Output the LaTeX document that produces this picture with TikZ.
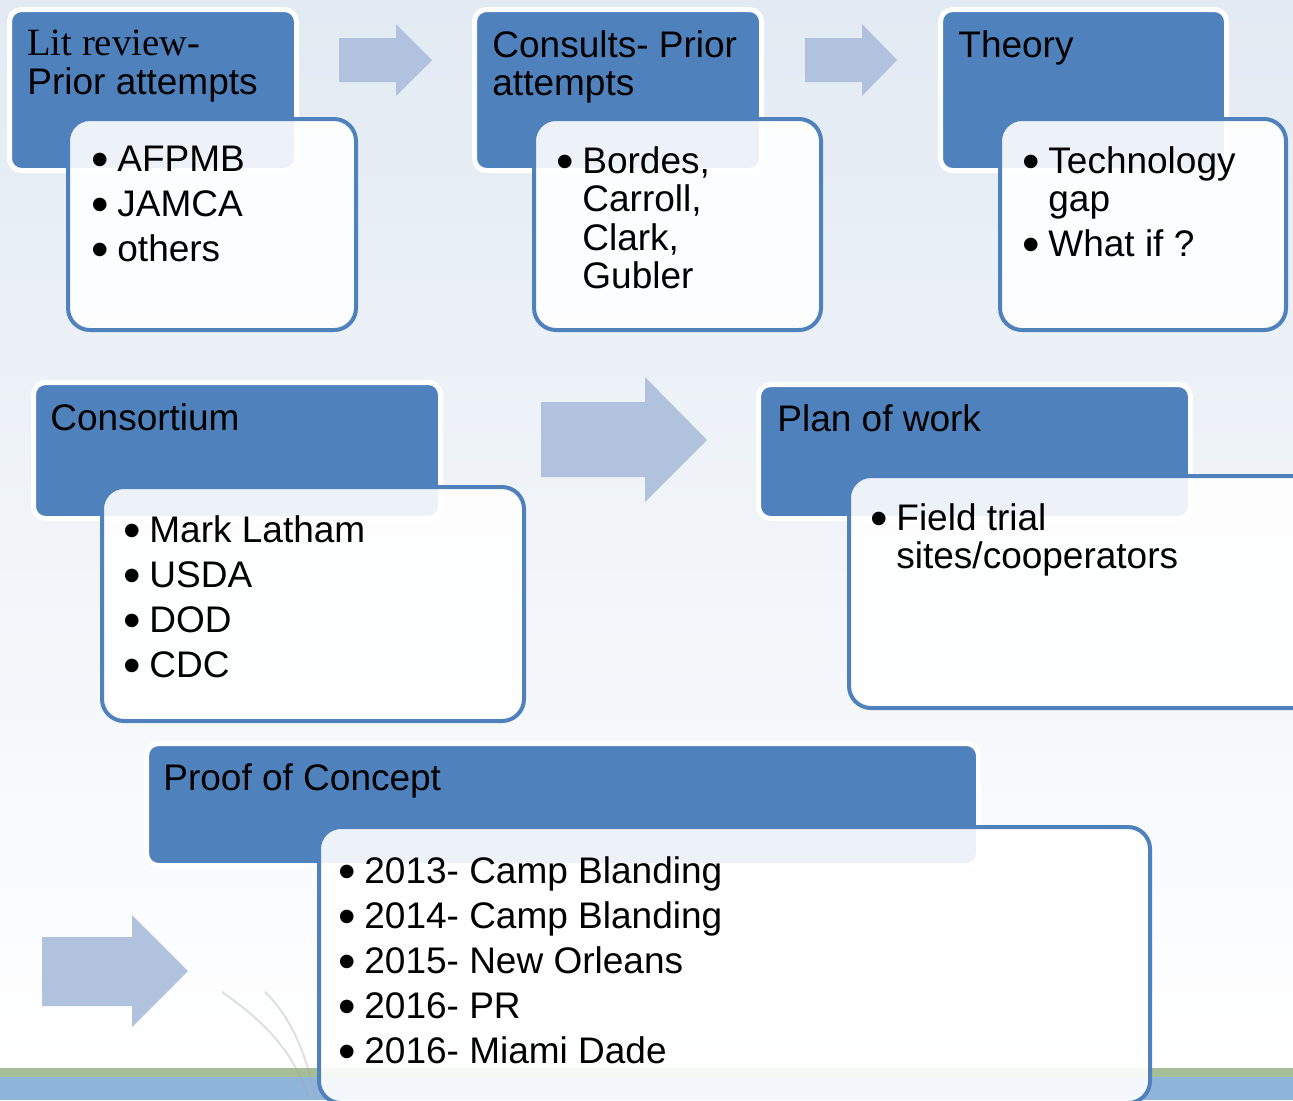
\documentclass[tikz,border=0pt]{standalone}
\usepackage{fontspec}
\setmainfont{Liberation Sans}
\newfontfamily\serifhead{Liberation Serif}
\usepackage{tikz}

\definecolor{stepblue}{RGB}{79,129,189}
\definecolor{flowtint}{RGB}{176,194,222}
\definecolor{bgtop}{RGB}{226,234,243}
\definecolor{bgmid}{RGB}{239,243,248}
\definecolor{bandgreen}{RGB}{166,190,152}
\definecolor{bandblue}{RGB}{143,182,218}

\newcommand{\bul}{\makebox[13pt][l]{\raisebox{-0.13em}[0pt][0pt]{\scalebox{1.35}{\textbullet}}}}
\newcommand{\hang}{\hspace*{13pt}}

\tikzset{
    head/.style={fill=stepblue, draw=white, line width=2.5pt, rounded corners=6pt, anchor=north west, inner sep=0pt},
    body/.style={fill=white, fill opacity=0.9, draw=stepblue, line width=2pt, rounded corners=11pt, anchor=north west, inner sep=0pt},
    flow/.style={fill=flowtint},
    txt/.style={anchor=north west, inner sep=0pt, align=left, font=\fontsize{18.5}{19.25}\selectfont, execute at begin node=\strut},
    grass/.style={draw=gray!70, opacity=0.35, line width=1pt}
}

\begin{document}
\begin{tikzpicture}[x=0.5pt, y=-0.5pt]
    \useasboundingbox (0,0) rectangle (1293,1100);
    \shade[top color=bgtop, middle color=bgmid, bottom color=white] (0,0) rectangle (1293,1068);
    \fill[bandgreen] (0,1068) rectangle (1293,1077);
    \fill[bandblue] (0,1077) rectangle (1293,1100);
    \draw[grass] (222,992) .. controls (262,1020) and (292,1048) .. (310,1100);
    \draw[grass] (265,992) .. controls (290,1016) and (306,1052) .. (316,1100);

    % first row
    \node[head, minimum width=143.5pt, minimum height=80.5pt] (lit) at (7,7) {};
    \node[body, minimum width=144pt, minimum height=105.5pt] (lit_items) at (66,117) {};
    \node[head, minimum width=143.5pt, minimum height=80.5pt] (consults) at (472,7) {};
    \node[body, minimum width=143.5pt, minimum height=105.5pt] (consults_items) at (532,117) {};
    \node[head, minimum width=143pt, minimum height=80.5pt] (theory) at (938,7) {};
    \node[body, minimum width=143pt, minimum height=105.5pt] (theory_items) at (998,117) {};

    \fill[flow] (339,38) -- (396,38) -- (396,24) -- (432,60) -- (396,96) -- (396,82) -- (339,82) -- cycle;
    \fill[flow] (805,38) -- (862,38) -- (862,24) -- (897,60) -- (862,96) -- (862,82) -- (805,82) -- cycle;

    \node[txt] (lit_title) at ([shift={(20,23)}]lit.north west) {{\serifhead\fontsize{19.3}{19.25}\selectfont Lit review-}\\Prior attempts};
    \node[txt] (lit_list) at ([shift={(25,29)}]lit_items.north west) {\bul AFPMB\\[3.25pt]\bul JAMCA\\[3.25pt]\bul others};
    \node[txt] (consults_title) at ([shift={(20,23)}]consults.north west) {Consults- Prior\\attempts};
    \node[txt] (consults_list) at ([shift={(24,29)}]consults_items.north west) {\bul Bordes,\\\hang Carroll,\\\hang Clark,\\\hang Gubler};
    \node[txt] (theory_title) at ([shift={(20,23)}]theory.north west) {Theory};
    \node[txt] (theory_list) at ([shift={(24,29)}]theory_items.north west) {\bul Technology\\\hang gap\\[3.25pt]\bul What if ?};

    % second row
    \node[head, minimum width=203.5pt, minimum height=68pt] (consortium) at (31,380) {};
    \node[body, minimum width=211pt, minimum height=117pt] (consortium_items) at (100,485) {};
    \node[head, minimum width=216pt, minimum height=67pt] (plan) at (756,382) {};
    \node[body, minimum width=233pt, minimum height=116pt] (plan_items) at (847,474) {};

    \fill[flow] (541,402) -- (645,402) -- (645,377) -- (707,440) -- (645,502) -- (645,477) -- (541,477) -- cycle;

    \node[txt] (consortium_title) at ([shift={(19,23)}]consortium.north west) {Consortium};
    \node[txt] (consortium_list) at ([shift={(23,30)}]consortium_items.north west) {\bul Mark Latham\\[3.25pt]\bul USDA\\[3.25pt]\bul DOD\\[3.25pt]\bul CDC};
    \node[txt] (plan_title) at ([shift={(21,22)}]plan.north west) {Plan of work};
    \node[txt] (plan_list) at ([shift={(23,29)}]plan_items.north west) {\bul Field trial\\\hang sites/cooperators};

    % third row
    \node[head, minimum width=416pt, minimum height=61pt] (proof) at (144,741) {};
    \node[body, minimum width=415.5pt, minimum height=138pt] (proof_items) at (317,825) {};

    \fill[flow] (42,937) -- (132,937) -- (132,915) -- (188,971) -- (132,1027) -- (132,1006) -- (42,1006) -- cycle;

    \node[txt] (proof_title) at ([shift={(19,22)}]proof.north west) {Proof of Concept};
    \node[txt] (proof_list) at ([shift={(21,31)}]proof_items.north west) {\bul 2013- Camp Blanding\\[3.25pt]\bul 2014- Camp Blanding\\[3.25pt]\bul 2015- New Orleans\\[3.25pt]\bul 2016- PR\\[3.25pt]\bul 2016- Miami Dade};

\end{tikzpicture}
\end{document}
